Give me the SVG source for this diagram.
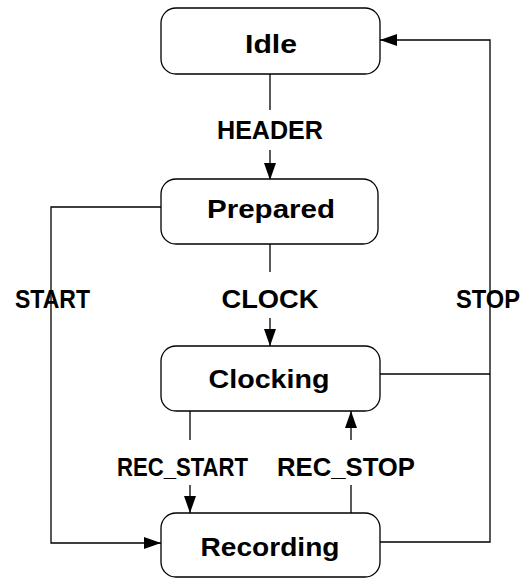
<svg xmlns="http://www.w3.org/2000/svg" width="525" height="579" viewBox="0 0 525 579">
<style>
.node rect{fill:#fff;stroke:#000;stroke-width:1.3}
.node text,.lbl{font-family:"Liberation Sans",Arial,sans-serif;font-weight:bold;font-size:26px;text-anchor:middle}
.edge{fill:none;stroke:#000;stroke-width:1.3}
</style>
<defs>
<marker id="ah" markerWidth="17" markerHeight="12" refX="17" refY="6" orient="auto" markerUnits="userSpaceOnUse">
<path d="M0,0 L17,6 L0,12 Z" fill="#000"/>
</marker>
</defs>
<rect width="525" height="579" fill="#fff"/>
<g id="connectors">
<path class="edge" d="M270,74 V110"/>
<path class="edge" d="M270,150 V180" marker-end="url(#ah)"/>
<path class="edge" d="M270,244 V272"/>
<path class="edge" d="M270,318 V346" marker-end="url(#ah)"/>
<path class="edge" d="M161,207 H51 V543 H161" marker-end="url(#ah)"/>
<path class="edge" d="M380,374 H490"/>
<path class="edge" d="M380,542 H490 V40 H380" marker-end="url(#ah)"/>
<path class="edge" d="M190,411 V440"/>
<path class="edge" d="M190,485 V513" marker-end="url(#ah)"/>
<path class="edge" d="M351,513 V485"/>
<path class="edge" d="M351,440 V411" marker-end="url(#ah)"/>
<text class="lbl" x="270" y="139" textLength="106" lengthAdjust="spacingAndGlyphs">HEADER</text>
<text class="lbl" x="270" y="308" textLength="97" lengthAdjust="spacingAndGlyphs">CLOCK</text>
<text class="lbl" x="52.5" y="308" textLength="75" lengthAdjust="spacingAndGlyphs">START</text>
<text class="lbl" x="488" y="308" textLength="64" lengthAdjust="spacingAndGlyphs">STOP</text>
<text class="lbl" x="182.5" y="476" textLength="131" lengthAdjust="spacingAndGlyphs">REC_START</text>
<text class="lbl" x="346" y="476" textLength="138" lengthAdjust="spacingAndGlyphs">REC_STOP</text>
</g>
<g id="idle" class="node"><rect x="161" y="8" width="219" height="66" rx="15"/><text x="271" y="53" textLength="52" lengthAdjust="spacingAndGlyphs">Idle</text></g>
<g id="prepared" class="node"><rect x="161" y="179" width="217" height="65" rx="15"/><text x="271" y="218" textLength="128" lengthAdjust="spacingAndGlyphs">Prepared</text></g>
<g id="clocking" class="node"><rect x="161" y="346" width="219" height="65" rx="15"/><text x="269" y="388" textLength="121" lengthAdjust="spacingAndGlyphs">Clocking</text></g>
<g id="recording" class="node"><rect x="161" y="513" width="219" height="64" rx="15"/><text x="270" y="556" textLength="139" lengthAdjust="spacingAndGlyphs">Recording</text></g>
</svg>
